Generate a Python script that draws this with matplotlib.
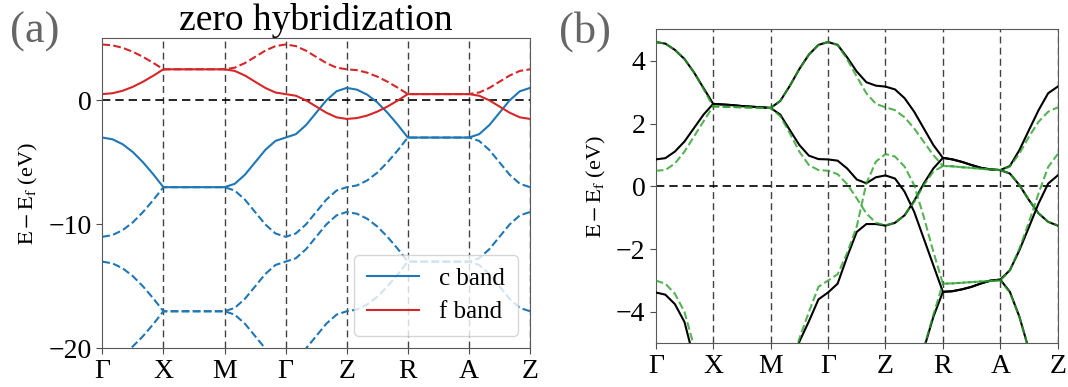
import numpy as np
import matplotlib.pyplot as plt

plt.rcParams['font.family'] = ['Liberation Serif', 'DejaVu Serif']
plt.rcParams['mathtext.fontset'] = 'stix'

nan = np.nan

# high symmetry path
kpath_labels = ['Γ', 'X', 'M', 'Γ', 'Z', 'R', 'A', 'Z']
n_per_seg = 6  # samples read per segment

# ---------------- panel (a): zero hybridization ----------------
f_solid = [0.50, 0.57, 0.77, 1.09, 1.50, 1.98,
           2.50, 2.50, 2.50, 2.50, 2.50, 2.50,
           2.50, 2.37, 2.00, 1.50, 1.00, 0.63,
           0.50, 0.37, 0.00, -0.50, -1.00, -1.37,
           -1.50, -1.43, -1.23, -0.91, -0.50, -0.02,
           0.50, 0.50, 0.50, 0.50, 0.50, 0.50,
           0.50, 0.37, 0.00, -0.50, -1.00, -1.37,
           -1.50]
f_dashed = [4.50, 4.43, 4.23, 3.91, 3.50, 3.02,
            2.50, 2.50, 2.50, 2.50, 2.50, 2.50,
            2.50, 2.63, 3.00, 3.50, 4.00, 4.37,
            4.50, 4.37, 4.00, 3.50, 3.00, 2.63,
            2.50, 2.43, 2.23, 1.91, 1.50, 1.02,
            0.50, 0.50, 0.50, 0.50, 0.50, 0.50,
            0.50, 0.63, 1.00, 1.50, 2.00, 2.37,
            2.50]
c_solid = [-3.00, -3.14, -3.54, -4.17, -5.00, -5.96,
           -7.00, -7.00, -7.00, -7.00, -7.00, -7.00,
           -7.00, -6.73, -6.00, -5.00, -4.00, -3.27,
           -3.00, -2.73, -2.00, -1.00, 0.00, 0.73,
           1.00, 0.86, 0.46, -0.17, -1.00, -1.96,
           -3.00, -3.00, -3.00, -3.00, -3.00, -3.00,
           -3.00, -2.73, -2.00, -1.00, 0.00, 0.73,
           1.00]
c_dashed_1 = [-11.00, -10.86, -10.46, -9.83, -9.00, -8.04,
              -7.00, -7.00, -7.00, -7.00, -7.00, -7.00,
              -7.00, -7.27, -8.00, -9.00, -10.00, -10.73,
              -11.00, -10.73, -10.00, -9.00, -8.00, -7.27,
              -7.00, -6.86, -6.46, -5.83, -5.00, -4.04,
              -3.00, -3.00, -3.00, -3.00, -3.00, -3.00,
              -3.00, -3.27, -4.00, -5.00, -6.00, -6.73,
              -7.00]
c_dashed_2 = [-13.00, -13.14, -13.54, -14.17, -15.00, -15.96,
              -17.00, -17.00, -17.00, -17.00, -17.00, -17.00,
              -17.00, -16.73, -16.00, -15.00, -14.00, -13.27,
              -13.00, -12.73, -12.00, -11.00, -10.00, -9.27,
              -9.00, -9.14, -9.54, -10.17, -11.00, -11.96,
              -13.00, -13.00, -13.00, -13.00, -13.00, -13.00,
              -13.00, -12.73, -12.00, -11.00, -10.00, -9.27,
              -9.00]
c_dashed_3 = [-21.00, -20.86, -20.46, -19.83, -19.00, -18.04,
              -17.00, -17.00, -17.00, -17.00, -17.00, -17.00,
              -17.00, -17.27, -18.00, -19.00, -20.00, -20.73,
              -21.00, -20.73, -20.00, -19.00, -18.00, -17.27,
              -17.00, -16.86, -16.46, -15.83, -15.00, -14.04,
              -13.00, -13.00, -13.00, -13.00, -13.00, -13.00,
              -13.00, -13.27, -14.00, -15.00, -16.00, -16.73,
              -17.00]

# ---------------- panel (b) ----------------
black_1 = [4.60, 4.55, 4.35, 4.06, 3.63, 3.13,
           2.63, 2.61, 2.59, 2.56, 2.54, 2.52,
           2.50, 2.72, 3.20, 3.74, 4.20, 4.51,
           4.60, 4.51, 4.11, 3.66, 3.32, 3.21,
           3.18, 3.09, 2.81, 2.38, 1.85, 1.32,
           0.91, 0.86, 0.78, 0.68, 0.59, 0.54,
           0.52, 0.65, 1.16, 1.80, 2.43, 2.97,
           3.18]
black_2 = [0.86, 0.90, 1.11, 1.43, 1.86, 2.29,
           2.63, 2.61, 2.59, 2.56, 2.54, 2.52,
           2.50, 2.29, 1.80, 1.32, 0.98, 0.87,
           0.86, 0.82, 0.57, 0.22, 0.10, 0.29,
           0.35, 0.25, -0.17, -0.81, -1.66, -2.51,
           -3.36, -3.34, -3.28, -3.20, -3.09, -3.00,
           -2.97, -2.67, -2.03, -1.29, -0.54, 0.09,
           0.35]
black_3 = [-3.38, -3.45, -3.75, -4.32, -5.50, nan,
           nan, nan, nan, nan, nan, nan,
           nan, nan, -6.00, -4.95, -4.30, -3.60,
           -3.38, -3.10, -2.24, -1.45, -1.20, -1.20,
           -1.25, -1.16, -0.92, -0.46, 0.09, 0.57,
           0.91, 0.86, 0.78, 0.68, 0.59, 0.54,
           0.52, 0.41, 0.04, -0.44, -0.86, -1.13,
           -1.25]
black_4 = [nan, nan, nan, nan, nan, nan,
           nan, nan, nan, nan, nan, nan,
           nan, nan, nan, nan, nan, nan,
           nan, nan, nan, nan, nan, nan,
           nan, nan, nan, -6.20, -5.19, -4.16,
           -3.36, -3.34, -3.28, -3.20, -3.09, -3.00,
           -2.97, -3.36, -4.16, -5.22, -6.20, nan,
           nan]
green_1 = [4.60, 4.55, 4.35, 4.06, 3.63, 3.10,
           2.55, 2.54, 2.53, 2.52, 2.51, 2.50,
           2.50, 2.72, 3.20, 3.74, 4.20, 4.51,
           4.60, 4.51, 4.05, 3.50, 2.97, 2.63,
           2.52, 2.43, 2.20, 1.85, 1.42, 1.00,
           0.65, 0.64, 0.61, 0.59, 0.56, 0.54,
           0.52, 0.63, 1.05, 1.59, 2.06, 2.38,
           2.52]
green_2 = [0.50, 0.52, 0.73, 1.11, 1.59, 2.08,
           2.55, 2.54, 2.53, 2.52, 2.51, 2.50,
           2.50, 2.24, 1.70, 1.11, 0.68, 0.52,
           0.50, 0.39, 0.07, -0.38, -0.86, -1.16,
           -1.24, -1.16, -0.92, -0.49, 0.04, 0.47,
           0.65, 0.64, 0.61, 0.59, 0.56, 0.54,
           0.52, 0.41, 0.04, -0.44, -0.86, -1.13,
           -1.24]
green_3 = [-3.00, -3.10, -3.42, -4.00, -5.10, nan,
           nan, nan, nan, nan, nan, nan,
           nan, nan, -6.00, -4.85, -4.00, -3.20,
           -3.00, -2.80, -2.12, -1.28, 0.09, 0.79,
           1.03, 0.95, 0.63, 0.04, -0.97, -2.08,
           -3.10, -3.09, -3.07, -3.05, -3.03, -3.01,
           -3.00, -2.67, -1.98, -1.13, -0.22, 0.62,
           1.03]
green_4 = [nan, nan, nan, nan, nan, nan,
           nan, nan, nan, nan, nan, nan,
           nan, nan, nan, nan, nan, nan,
           nan, nan, nan, nan, nan, nan,
           nan, nan, nan, -6.20, -5.15, -4.10,
           -3.10, -3.09, -3.07, -3.05, -3.03, -3.01,
           -3.00, -3.38, -4.16, -5.22, -6.20, nan,
           nan]

nseg = len(kpath_labels) - 1
k = np.linspace(0, nseg, nseg * n_per_seg + 1)
ticks = np.arange(len(kpath_labels))

blue = '#1f77b4'
red = '#d62728'
green = '#2ca02c'


def decorate(ax, ylim, yticks):
    for t in ticks[1:]:
        ax.axvline(t, color='k', ls=(0, (5, 3)), lw=1.0, alpha=0.75, zorder=1)
    ax.axhline(0, color='k', ls=(0, (5, 3)), lw=1.2, zorder=1)
    ax.set_xlim(0, nseg)
    ax.set_ylim(*ylim)
    ax.set_xticks(ticks)
    ax.set_xticklabels(kpath_labels)
    ax.set_yticks(yticks)
    ax.tick_params(labelsize=20, length=4, color='0.3')
    for s in ax.spines.values():
        s.set_color('0.35')
    ax.set_ylabel(r'$\mathrm{E-E_f}$ (eV)', fontsize=16, labelpad=6)


fig = plt.figure(figsize=(10.68, 3.87), dpi=100)
ax1 = fig.add_axes([0.0958, 0.0995, 0.4005, 0.8016])
ax2 = fig.add_axes([0.614, 0.1129, 0.3764, 0.8109])

# (a)
ax1.plot(k, c_solid, color=blue, lw=1.5, label='c band')
for band in [c_dashed_1, c_dashed_2, c_dashed_3]:
    ax1.plot(k, band, color=blue, lw=1.5, ls='--')
ax1.plot(k, f_solid, color=red, lw=1.5, label='f band')
ax1.plot(k, f_dashed, color=red, lw=1.5, ls='--')
decorate(ax1, (-20, 5), [-20, -10, 0])
ax1.set_title('zero hybridization', fontsize=27, pad=4)
ax1.legend(loc='lower right', fontsize=18, handlelength=2.1, borderpad=0.5,
           labelspacing=0.45, framealpha=0.8)

# (b)
for band in [black_1, black_2, black_3, black_4]:
    ax2.plot(k, band, color='k', lw=1.5, zorder=3)
for band in [green_1, green_2, green_3, green_4]:
    ax2.plot(k, band, color=green, lw=1.5, ls='--', alpha=0.8, zorder=4)
decorate(ax2, (-5, 5), [-4, -2, 0, 2, 4])

fig.text(0.009, 0.89, '(a)', fontsize=32, color='0.4')
fig.text(0.523, 0.89, '(b)', fontsize=32, color='0.4')

fig.savefig('out.png', dpi=100)
